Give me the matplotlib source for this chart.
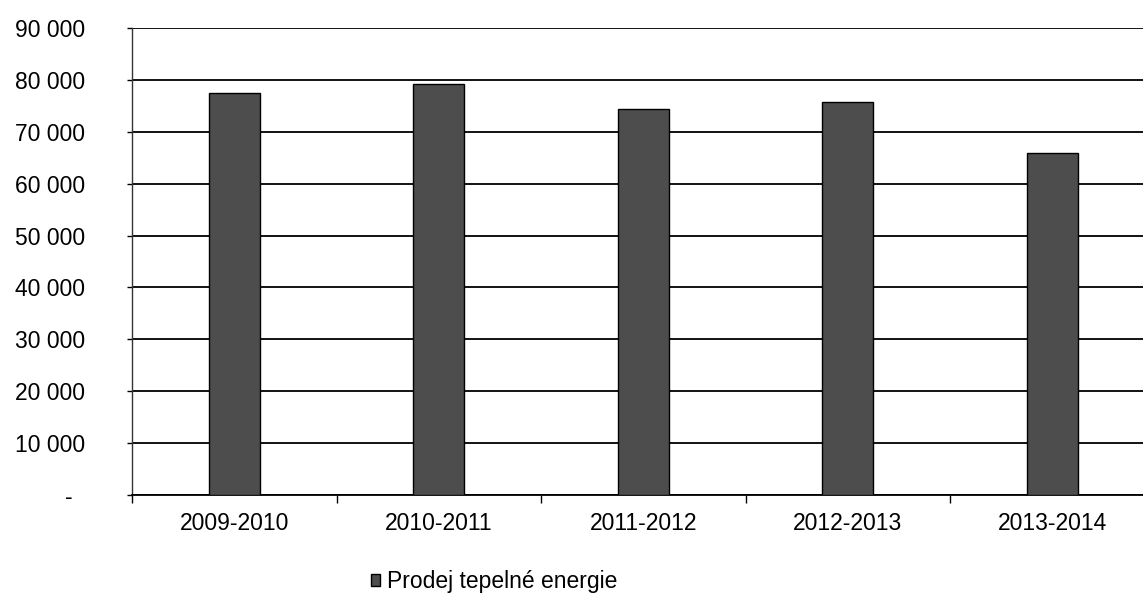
import numpy as np
import matplotlib
matplotlib.use("Agg")
from matplotlib import pyplot as plt
from matplotlib.patches import Patch

plt.rcParams['font.family'] = ['Liberation Sans', 'DejaVu Sans']

# data
seasons = ['2009-2010', '2010-2011', '2011-2012', '2012-2013', '2013-2014']
prodej = [77400, 79300, 74500, 75800, 65900]
y_ticks = [0, 10000, 20000, 30000, 40000, 50000, 60000, 70000, 80000, 90000]
legend_label = 'Prodej tepelné energie'


def fmt(v):
        # excel accounting style, zero shows as a dash
        if v == 0:
                return '-  '
        return '{:,.0f}'.format(v).replace(',', ' ')


fig = plt.figure(figsize=(11.43, 6.11), dpi=100)
ax = fig.add_axes([0.1155, 0.19, 0.8946, 0.764])

x = np.arange(len(seasons))
bar_color = '#4d4d4d'
ax.bar(x, prodej, width=0.25, color=bar_color, edgecolor='black', linewidth=1.0, zorder=3)

ax.set_ylim(0, 90000)
ax.set_xlim(-0.5, len(seasons) - 0.5)

ax.set_yticks(y_ticks)
ax.set_yticklabels([fmt(v) for v in y_ticks], fontsize=16.5)
ax.yaxis.grid(True, color='black', linewidth=1.3, zorder=0)

# boundary ticks below the axis, labels in the middle of each category
ax.set_xticks(np.arange(len(seasons) + 1) - 0.5)
ax.set_xticklabels([])
ax.set_xticks(x, minor=True)
ax.set_xticklabels(seasons, minor=True, fontsize=16.5)
ax.tick_params(axis='x', which='major', length=6, width=1, color='black')
ax.tick_params(axis='x', which='minor', length=0, pad=12)
ax.tick_params(axis='y', length=3.6, width=1, pad=30)

for s in ['top', 'right']:
        ax.spines[s].set_visible(False)
ax.spines['left'].set_color('#333333')
ax.spines['left'].set_linewidth(1.0)
ax.spines['bottom'].set_color('black')
ax.spines['bottom'].set_linewidth(1.3)

fig.legend(handles=[Patch(facecolor=bar_color, edgecolor='black', label=legend_label)],
           loc='center', bbox_to_anchor=(0.4325, 0.048), frameon=False,
           fontsize=16.5, handlelength=0.4, handleheight=0.4, handletextpad=0.3)

fig.savefig('out.png', dpi=100)
